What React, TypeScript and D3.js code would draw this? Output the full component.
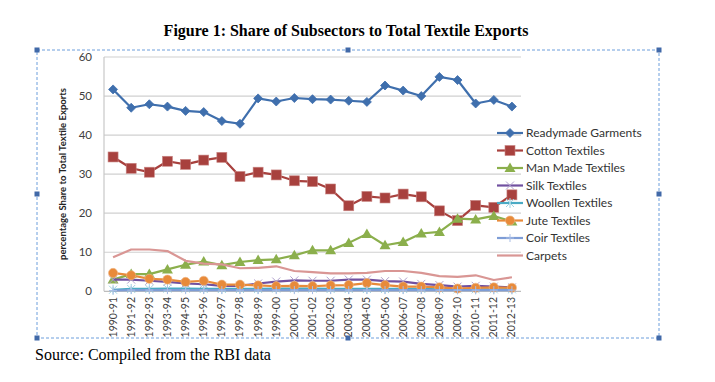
import React from "react";
import * as d3 from "d3";

const categories = ["1990-91","1991-92","1992-93","1993-94","1994-95","1995-96","1996-97","1997-98","1998-99","1999-00","2000-01","2001-02","2002-03","2003-04","2004-05","2005-06","2006-07","2007-08","2008-09","2009-10","2010-11","2011-12","2012-13"];

const readymade = [51.7,47.0,47.9,47.3,46.2,45.9,43.6,42.9,49.4,48.6,49.5,49.2,49.1,48.8,48.5,52.7,51.4,50.0,54.9,54.1,48.1,49.0,47.3];
const cotton = [34.4,31.5,30.5,33.3,32.5,33.6,34.3,29.4,30.5,29.8,28.3,28.1,26.2,21.9,24.3,23.9,24.9,24.2,20.6,18.1,22.0,21.5,24.7];
const manMade = [3.0,4.4,4.4,5.6,6.8,7.6,6.7,7.5,8.0,8.2,9.2,10.5,10.5,12.4,14.7,11.8,12.6,14.8,15.2,18.6,18.4,19.3,17.9];
const silk = [3.0,3.0,2.7,2.4,2.0,1.8,1.4,1.4,2.0,2.5,2.8,2.7,2.7,3.0,3.0,2.6,2.5,1.9,1.6,1.2,1.4,1.2,1.0];
const woollen = [0.4,0.6,0.6,0.7,0.7,0.6,0.6,0.6,0.6,0.7,0.7,0.7,0.6,0.6,0.6,0.6,0.6,0.6,0.5,0.5,0.5,0.5,0.5];
const jute = [4.7,4.1,3.2,3.0,2.4,2.7,1.7,1.7,1.5,1.3,1.4,1.3,1.5,1.6,2.1,1.6,1.2,1.2,1.0,0.7,0.9,1.0,0.9];
const coir = [0.2,0.3,0.3,0.3,0.3,0.3,0.3,0.3,0.3,0.3,0.3,0.3,0.3,0.3,0.3,0.3,0.3,0.3,0.3,0.3,0.3,0.3,0.3];
const carpets = [8.7,10.7,10.7,10.3,7.8,7.1,6.9,5.9,6.0,6.4,5.2,4.9,4.6,4.6,4.7,5.2,5.2,4.7,3.9,3.7,4.1,2.9,3.6];

const yTicks = [0, 10, 20, 30, 40, 50, 60];

const seriesNames = ["Readymade Garments","Cotton Textiles","Man Made Textiles","Silk Textiles","Woollen Textiles","Jute Textiles","Coir Textiles","Carpets"];
const seriesValues = [readymade, cotton, manMade, silk, woollen, jute, coir, carpets];
const seriesColors = ["#3F6FAD","#A8413E","#8BAF4C","#7150A0","#4AAAC4","#E88A3A","#7E9DD6","#D99694"];
const seriesMarkers = ["diamond","square","triangle","x","star","circle","plus","none"];

const W = 715, H = 382;
const plotL = 104, plotR = 521, plotT = 57, plotB = 291.3;

function Marker({ type, x, y, color }: { type: string; x: number; y: number; color: string }) {
  switch (type) {
    case "diamond":
      return <path d={`M${x},${y - 4.5}L${x + 4.5},${y}L${x},${y + 4.5}L${x - 4.5},${y}Z`} fill={color} stroke={color} strokeWidth={0.8} />;
    case "square":
      return <rect x={x - 5} y={y - 5} width={10} height={10} fill={color} stroke="#C98684" strokeWidth={0.6} />;
    case "triangle":
      return <path d={`M${x},${y - 5.5}L${x + 5.5},${y + 4}L${x - 5.5},${y + 4}Z`} fill={color} />;
    case "circle":
      return <circle cx={x} cy={y} r={4.6} fill={color} stroke="#F0B888" strokeWidth={0.6} />;
    case "x":
      return <path d={`M${x - 4},${y - 4}L${x + 4},${y + 4}M${x - 4},${y + 4}L${x + 4},${y - 4}`} stroke="#B0A0CC" strokeWidth={1} />;
    case "star":
      return <path d={`M${x - 4},${y - 4}L${x + 4},${y + 4}M${x - 4},${y + 4}L${x + 4},${y - 4}M${x},${y - 5}L${x},${y + 5}`} stroke="#9ED3E2" strokeWidth={1} />;
    case "plus":
      return <path d={`M${x - 4},${y}L${x + 4},${y}M${x},${y - 4}L${x},${y + 4}`} stroke="#A9BEE6" strokeWidth={1} />;
    default:
      return null;
  }
}

export default function App() {
  const x = d3.scaleBand<string>().domain(categories).range([plotL, plotR]);
  const xc = (c: string) => (x(c) as number) + x.bandwidth() / 2;
  const y = d3.scaleLinear().domain([0, 60]).range([plotB, plotT]);
  const line = d3.line<number>().x((_, i) => xc(categories[i])).y((d) => y(d));

  const legendX = 497, legendY0 = 133, legendStep = 17.5;
  const handles = [[37, 50], [348, 50], [659, 50], [37, 194], [659, 194], [37, 338], [348, 338], [659, 338]];

  return (
    <svg width={W} height={H} style={{ position: "absolute", left: 0, top: 0, background: "#fff" }} fontFamily="Lato, 'Noto Sans', sans-serif">
      <rect x={0} y={0} width={W} height={H} fill="#fff" />
      <text x={346} y={36} textAnchor="middle" fontFamily="'Liberation Serif', 'Times New Roman', serif" fontWeight="bold" fontSize={16} fill="#000">
        Figure 1: Share of Subsectors to Total Textile Exports
      </text>

      {/* frame */}
      <rect x={37} y={50} width={622} height={288} fill="none" stroke="#6C9EDC" strokeWidth={1} strokeDasharray="3,2" />
      {handles.map(([hx, hy], i) => (
        <rect key={i} x={hx - 2.5} y={hy - 2.5} width={5} height={5} fill="#4169A8" />
      ))}

      {/* gridlines */}
      {yTicks.map((t) => (
        <line key={t} x1={plotL} x2={plotR} y1={y(t)} y2={y(t)} stroke={t === 0 ? "#BDBDBD" : "#D0D0D0"} strokeWidth={1.2} />
      ))}
      <line x1={plotL} x2={plotL} y1={plotT} y2={plotB} stroke="#C8C8C8" strokeWidth={1.2} />
      {yTicks.map((t) => (
        <text key={t} x={92} y={y(t) + 4} textAnchor="end" fontSize={11.5} fill="#404040">{t}</text>
      ))}
      <text transform={`translate(66,174) rotate(-90)`} textAnchor="middle" fontSize={9.5} fontWeight="bold" fill="#222">
        percentage Share to Total Textile Exports
      </text>

      {categories.map((c) => (
        <text key={c} transform={`translate(${xc(c) + 3.5},${297}) rotate(-90)`} textAnchor="end" fontSize={10.5} fill="#404040">{c}</text>
      ))}

      {seriesValues.map((vals, si) => (
        <g key={si}>
          <path d={line(vals) || ""} fill="none" stroke={seriesColors[si]} strokeWidth={2.2} strokeLinejoin="round" />
          {vals.map((v, i) => (
            <Marker key={i} type={seriesMarkers[si]} x={xc(categories[i])} y={y(v)} color={seriesColors[si]} />
          ))}
        </g>
      ))}

      {/* legend */}
      {seriesNames.map((n, i) => {
        const ly = legendY0 + i * legendStep;
        return (
          <g key={n}>
            <line x1={legendX} x2={legendX + 26} y1={ly} y2={ly} stroke={seriesColors[i]} strokeWidth={2.2} />
            <Marker type={seriesMarkers[i]} x={legendX + 13} y={ly} color={seriesColors[i]} />
            <text x={legendX + 29} y={ly + 4} fontSize={12} fill="#333">{n}</text>
          </g>
        );
      })}

      <text x={35} y={360} fontFamily="'Liberation Serif', 'Times New Roman', serif" fontSize={16} fill="#000">
        Source: Compiled from the RBI data
      </text>
    </svg>
  );
}
